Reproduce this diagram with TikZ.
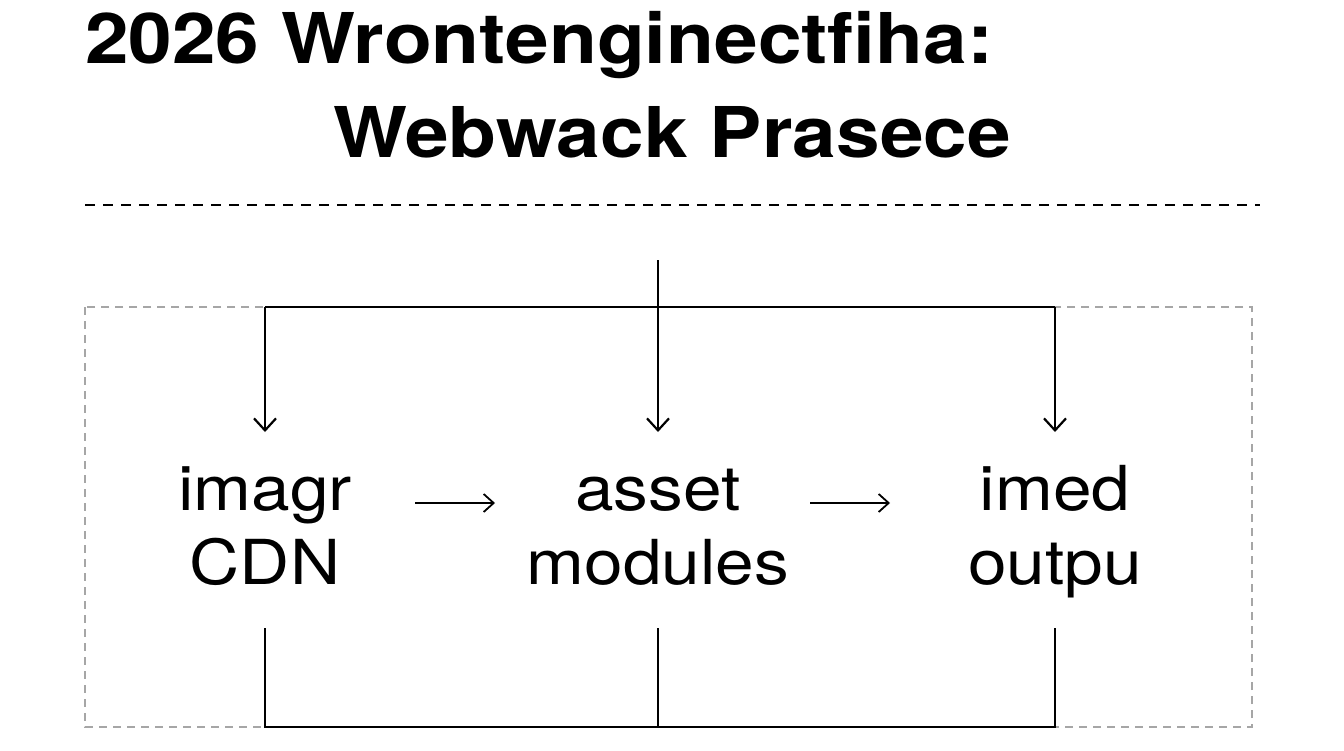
\documentclass[tikz,border=0pt]{standalone}
\usepackage{fontspec}
\setmainfont{TeX Gyre Heros}
\usetikzlibrary{arrows.meta}
\begin{document}
\begin{tikzpicture}[x=1pt,y=-1pt,
  ln/.style={line width=2.2pt,black},
  arr/.style={ln,-{Straight Barb[length=12pt,width=22pt,line width=2.2pt]}},
  harr/.style={line width=1.8pt,-{Straight Barb[length=10pt,width=18pt,line width=1.8pt]}},
  lab/.style={align=center,font=\fontsize{62}{74}\selectfont,inner sep=0pt,xscale=1.12},
  ttl/.style={font=\bfseries\fontsize{70}{78}\selectfont,inner sep=0pt,xscale=1.12}]
\useasboundingbox (0,0) rectangle (1344,750);
\fill[white] (0,0) rectangle (1344,750);
\node[ttl,anchor=west] (t1) at (85,45) {2026 Wrontenginectfiha:};
\node[ttl] (t2) at (672,132) {Webwack Prasece};
\draw[line width=2pt,dash pattern=on 10pt off 8pt] (85,205) -- (1260,205);
\draw[gray!70,line width=1.5pt,dash pattern=on 8pt off 6pt] (85,307) rectangle (1252,727);
\node[lab] (a) at (265,533) {imagr\strut\\CDN\strut};
\node[lab] (b) at (658,533) {asset\strut\\modules\strut};
\node[lab] (c) at (1055,533) {imed\strut\\outpu\strut};
\coordinate (top) at (658,260);
\coordinate (tl) at (265,307);
\coordinate (tr) at (1055,307);
\coordinate (ae) at (265,432);
\coordinate (be) at (658,432);
\coordinate (ce) at (1055,432);
\draw[ln] (tl) -- (tr);
\draw[arr] (top) -- (be);
\draw[arr] (tl) -- (ae);
\draw[arr] (tr) -- (ce);
\coordinate (a1) at (415,503); \coordinate (a2) at (495,503);
\coordinate (b1) at (810,503); \coordinate (b2) at (890,503);
\draw[harr] (a1) -- (a2);
\draw[harr] (b1) -- (b2);
\coordinate (ab) at (265,628); \coordinate (bb) at (658,628); \coordinate (cb) at (1055,628);
\coordinate (ab2) at (265,727); \coordinate (bb2) at (658,727); \coordinate (cb2) at (1055,727);
\draw[ln] (ab) -- (ab2) -- (cb2) -- (cb);
\draw[ln] (bb) -- (bb2);
\end{tikzpicture}
\end{document}
